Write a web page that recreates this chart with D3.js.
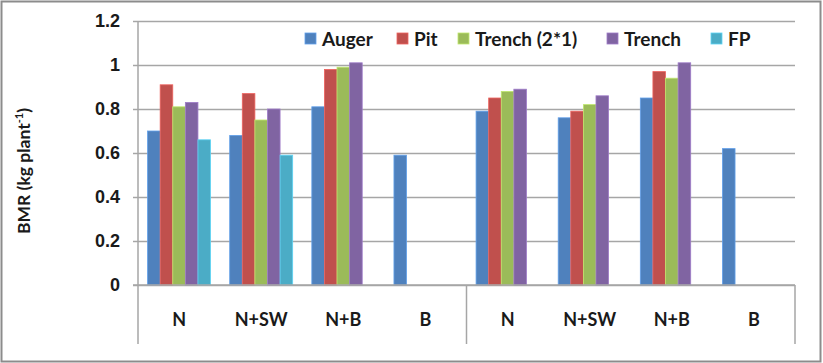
<!DOCTYPE html>
<html>
<head>
<meta charset="utf-8">
<script src="https://cdn.jsdelivr.net/npm/d3@7/dist/d3.min.js"></script>
<style>
  html, body { margin: 0; padding: 0; background: #fff; }
  svg { display: block; font-family: Lato, "Open Sans", sans-serif; }
</style>
</head>
<body>
<svg id="chart" width="823" height="363"></svg>
<script>
// categories: two blocks of four treatments
const categories = ['N', 'N+SW', 'N+B', 'B', 'N', 'N+SW', 'N+B', 'B'];
const seriesNames = ['Auger', 'Pit', 'Trench (2*1)', 'Trench', 'FP'];
const colors = ['#4f81bd', '#c0504d', '#9bbb59', '#8064a2', '#4bacc6'];

const auger = [0.70, 0.68, 0.81, 0.59, 0.79, 0.76, 0.85, 0.62];
const pit = [0.91, 0.87, 0.98, null, 0.85, 0.79, 0.97, null];
const trench21 = [0.81, 0.75, 0.99, null, 0.88, 0.82, 0.94, null];
const trench = [0.83, 0.80, 1.01, null, 0.89, 0.86, 1.01, null];
const fp = [0.66, 0.59, null, null, null, null, null, null];

const yTicks = [0, 0.2, 0.4, 0.6, 0.8, 1, 1.2];
const yTickLabels = ['0', '0.2', '0.4', '0.6', '0.8', '1', '1.2'];

const seriesValues = [auger, pit, trench21, trench, fp];

const svg = d3.select('#chart');
const L = 138, R = 795, T = 21, B = 285, bottom = 344;
const grid = '#a6a6a6', ink = '#1a1a1a';

// outer frame
svg.append('rect').attr('x', 1.5).attr('y', 1.5).attr('width', 819).attr('height', 360)
  .attr('fill', '#fff').attr('stroke', '#8c8c8c').attr('stroke-width', 2);

const y = d3.scaleLinear().domain([0, 1.2]).range([B, T]);
const x0 = d3.scaleBand().domain(d3.range(categories.length)).range([L, R]);
const x1 = d3.scaleBand().domain(d3.range(seriesNames.length)).range([0, x0.bandwidth()]).paddingOuter(0.76);

// gridlines + y labels
const yAxis = svg.append('g').attr('transform', `translate(${L},0)`)
  .call(d3.axisLeft(y).tickValues(yTicks).tickSize(-(R - L)).tickPadding(18)
    .tickFormat((d, i) => yTickLabels[i]));
yAxis.select('.domain').remove();
yAxis.selectAll('.tick line').attr('x1', -5).attr('stroke', grid).attr('stroke-width', 1.5);
yAxis.selectAll('.tick text').attr('fill', ink).attr('font-size', 18).attr('font-weight', 700);

// vertical axis lines (left axis, block divider, right edge)
[L, x0(4), R].forEach((xv, i) => {
  svg.append('line').attr('x1', xv).attr('x2', xv)
    .attr('y1', i === 0 ? T : B).attr('y2', bottom)
    .attr('stroke', grid).attr('stroke-width', 1.5);
});

// bars
seriesValues.forEach((vals, s) => {
  svg.append('g').selectAll('rect')
    .data(vals.map((v, i) => ({ v, i })).filter((d) => d.v != null))
    .join('rect')
    .attr('x', (d) => x0(d.i) + x1(s))
    .attr('y', (d) => y(d.v))
    .attr('width', x1.bandwidth())
    .attr('height', (d) => B - y(d.v))
    .attr('fill', colors[s])
    .attr('stroke', d3.color(colors[s]).brighter(0.6))
    .attr('stroke-width', 0.8);
});

// baseline drawn over bars
svg.append('line').attr('x1', L - 5).attr('x2', R).attr('y1', B).attr('y2', B)
  .attr('stroke', grid).attr('stroke-width', 1.5);

// category labels
svg.append('g').selectAll('text').data(categories).join('text')
  .attr('x', (d, i) => x0(i) + x0.bandwidth() / 2)
  .attr('y', 326)
  .attr('text-anchor', 'middle')
  .attr('font-size', 18).attr('font-weight', 700).attr('fill', ink)
  .text((d) => d);

// y title
const yt = svg.append('text')
  .attr('transform', 'translate(30,171) rotate(-90)')
  .attr('text-anchor', 'middle')
  .attr('font-size', 17.5).attr('font-weight', 700).attr('fill', ink);
yt.append('tspan').text('BMR (kg plant');
yt.append('tspan').attr('font-size', 11).attr('dy', -7).text('-1');
yt.append('tspan').attr('dy', 7).text(')');

// legend
const legendX = [305, 397, 458, 607, 711];
const lg = svg.append('g').selectAll('g').data(seriesNames).join('g')
  .attr('transform', (d, i) => `translate(${legendX[i]},33)`);
lg.append('rect').attr('width', 11).attr('height', 11).attr('fill', (d, i) => colors[i])
  .attr('stroke', (d, i) => d3.color(colors[i]).brighter(0.6)).attr('stroke-width', 0.8);
lg.append('text').attr('x', 17).attr('y', 12.5)
  .attr('font-size', 19).attr('font-weight', 700).attr('fill', ink)
  .text((d) => d);
</script>
</body>
</html>
